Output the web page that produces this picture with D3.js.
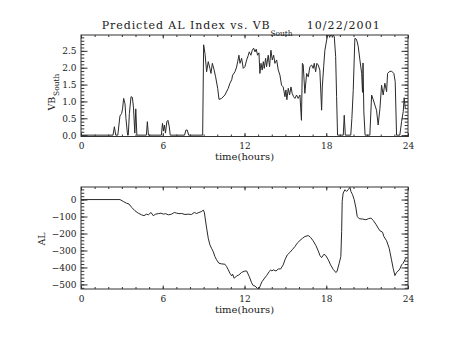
<!DOCTYPE html>
<html>
<head>
<meta charset="utf-8">
<script src="https://cdn.jsdelivr.net/npm/d3@7"></script>
<style>
  html, body { margin: 0; padding: 0; background: #fff; }
  svg { display: block; }
  text { font-family: "DejaVu Serif", serif; fill: #222; }
</style>
</head>
<body>
<svg id="chart" width="454" height="341"></svg>
<script>
// ---------------- DATA ----------------
const xTicks = [0, 6, 12, 18, 24];
const vbTicks = [0, 0.5, 1.0, 1.5, 2.0, 2.5];
const alTicks = [0, -100, -200, -300, -400, -500];

const vbHours = [0,2.35,2.45,2.55,2.7,2.86,2.98,3.05,3.13,3.23,3.3,3.42,3.47,3.55,3.67,3.77,3.85,3.95,4.02,4.1,
  4.8,4.87,4.95,
  5.9,5.98,6.05,6.12,6.2,6.3,6.38,6.48,6.55,
  7.6,7.7,7.8,7.9,
  8.93,9.0,9.1,9.22,9.34,9.46,9.54,9.64,9.76,9.88,10.03,10.13,10.32,10.56,10.81,10.93,11.06,11.13,11.3,11.42,11.5,11.59,11.67,11.79,11.91,12.03,12.16,12.28,12.35,12.47,12.57,12.67,12.77,12.86,12.96,13.06,13.13,13.21,13.3,13.38,13.45,13.55,13.62,13.74,13.84,13.94,14.04,14.14,14.23,14.36,14.48,14.6,14.72,14.84,14.97,15.04,15.11,15.21,15.31,15.41,15.5,15.6,15.7,15.82,15.94,16.07,16.12,16.18,16.25,16.31,16.43,16.56,16.68,16.8,16.93,17.04,17.12,17.22,17.31,17.41,17.53,17.66,17.71,17.81,17.9,18.03,18.1,18.2,18.25,18.32,18.4,18.45,18.52,18.59,18.69,18.76,18.83,
  19.25,19.32,19.4,
  19.8,19.88,19.98,20.1,20.2,20.27,20.35,20.47,20.6,20.66,20.7,20.76,20.85,21.2,21.33,21.45,21.57,21.69,21.81,21.94,22.06,22.18,22.3,22.43,22.5,22.62,22.79,22.96,23.06,23.16,23.4,23.53,23.65,23.72,23.8];
const vbValues = [0,0,0.25,0,0,0.57,0.64,0.78,1.09,0.93,0.49,0,0,0.64,1.14,1.12,0.83,0.06,0.78,0,
  0,0.4,0,
  0,0.35,0.12,0.3,0.06,0.4,0.44,0.25,0,
  0,0.15,0.15,0,
  0,2.68,2.42,1.88,2.18,1.98,1.83,2.13,1.95,1.73,1.39,1.06,1.09,1.19,1.39,1.54,1.64,1.78,1.88,2.02,2.18,2.37,2.13,2.28,1.98,2.03,2.23,2.37,2.47,2.37,2.52,2.58,2.47,2.55,2.37,2.44,1.83,2.13,1.93,2.18,1.98,2.28,2.03,2.37,2.03,2.52,2.23,2.37,2.13,2.23,1.93,1.78,1.48,1.43,1.14,1.34,1.05,1.39,1.19,1.43,1.24,1.14,1.09,1.19,1.09,1.19,0.83,0.44,2.13,2.08,1.24,1.83,1.73,2.03,2.08,1.98,2.13,1.88,2.13,2.08,1.93,0.74,1.43,2.03,2.52,2.82,2.97,2.97,2.9,2.97,2.97,2.9,2.97,2.92,2.33,1.14,0,
  0,0.59,0,
  0,0.49,1.32,2.87,2.85,2.77,2.62,2.23,1.83,1.27,2.14,0.69,0,0,1.19,1.05,0.89,0.74,0.3,0.79,1.48,1.19,1.54,1.29,1.83,1.88,1.9,1.83,1.59,0,0,0.4,0.7,1.11,0.79];

const alHours = [0,2.86,3.1,3.35,3.52,3.72,3.96,4.2,4.45,4.62,4.82,4.94,5.14,5.3,5.48,5.67,5.87,6.04,6.21,6.41,6.65,6.85,7.02,7.19,7.39,7.63,7.87,8.12,8.31,8.49,8.66,8.86,8.97,9.05,9.22,9.34,9.46,9.58,9.7,9.83,9.95,10.12,10.32,10.56,10.69,10.81,10.93,11.06,11.13,11.25,11.42,11.59,11.79,12.03,12.16,12.35,12.52,12.64,12.77,12.94,13.06,13.18,13.28,13.43,13.62,13.82,13.92,14.01,14.11,14.31,14.48,14.65,14.84,14.97,15.14,15.33,15.53,15.7,15.87,16.07,16.26,16.43,16.68,16.85,17.04,17.24,17.41,17.54,17.66,17.83,17.97,18.15,18.32,18.51,18.71,18.8,18.95,19.07,19.13,19.17,19.24,19.37,19.49,19.61,19.74,19.81,19.93,20.05,20.18,20.27,20.42,20.67,20.91,21.08,21.28,21.45,21.64,21.81,21.94,22.13,22.23,22.43,22.62,22.79,22.91,23.04,23.16,23.28,23.4,23.53,23.65,23.77,23.89];
const alValues = [0,0,-11,-22,-26,-46,-66,-80,-90,-95,-86,-90,-76,-95,-86,-83,-80,-86,-83,-90,-86,-76,-80,-83,-82,-88,-86,-88,-76,-82,-76,-70,-62,-74,-168,-228,-267,-287,-306,-336,-355,-375,-379,-381,-395,-414,-434,-450,-440,-464,-450,-444,-429,-421,-421,-454,-490,-507,-509,-523,-527,-503,-484,-468,-448,-424,-414,-421,-414,-421,-409,-409,-385,-355,-326,-312,-293,-277,-257,-241,-228,-218,-212,-223,-243,-271,-302,-330,-342,-322,-330,-355,-385,-411,-430,-421,-375,-336,-188,-11,38,58,48,58,72,48,29,0,-50,-99,-113,-115,-119,-113,-109,-123,-145,-168,-184,-192,-218,-243,-287,-355,-405,-448,-429,-421,-409,-385,-375,-355,-342];

// ---------------- LAYOUT ----------------
const svg = d3.select("#chart");
const ink = "#333";
const L = 81, R = 408;
const top1 = 35, bot1 = 136.5;
const top2 = 187, bot2 = 289;

const x = d3.scaleLinear().domain([0, 24]).range([L, R]);
const yVB = d3.scaleLinear().domain([-0.04, 2.97]).range([bot1, top1]);
const yAL = d3.scaleLinear().domain([-527, 74]).range([bot2, top2]);

const minorX = d3.range(0, 25, 1);
const minorVB = d3.range(0, 30, 1).map(d => d / 10).filter(d => d >= -0.04 && d <= 2.97);
const minorAL = d3.range(-520, 80, 20);

function panel(y, yTicks, yMinor, yFmt, topY, botY, clipId, hours, values) {
  const g = svg.append("g");
  svg.append("clipPath").attr("id", clipId).append("rect")
    .attr("x", L).attr("y", topY).attr("width", R - L).attr("height", botY - topY);

  // data line
  const pts = hours.map((h, i) => [h, values[i]]);
  g.append("path").datum(pts)
    .attr("clip-path", `url(#${clipId})`)
    .attr("fill", "none").attr("stroke", "#2a2a2a").attr("stroke-width", 1)
    .attr("stroke-linejoin", "round")
    .attr("d", d3.line().x(d => x(d[0])).y(d => y(d[1])));

  // frame
  g.append("rect").attr("x", L).attr("y", topY).attr("width", R - L).attr("height", botY - topY)
    .attr("fill", "none").attr("stroke", ink).attr("stroke-width", 1);

  const clean = s => s.select(".domain").remove();
  const styleTicks = s => s.selectAll("line").attr("stroke", ink);

  // bottom x axis major with labels
  g.append("g").attr("transform", `translate(0,${botY})`)
    .call(d3.axisBottom(x).tickValues(xTicks).tickSize(-3.5).tickPadding(6.4).tickFormat(d3.format("d")))
    .call(clean).call(styleTicks)
    .call(s => s.selectAll("text").attr("font-size", 9).attr("font-family", "DejaVu Serif").attr("fill", "#222"));
  // bottom minor
  g.append("g").attr("transform", `translate(0,${botY})`)
    .call(d3.axisBottom(x).tickValues(minorX).tickSize(-2).tickFormat(""))
    .call(clean).call(styleTicks);
  // top x axis
  g.append("g").attr("transform", `translate(0,${topY})`)
    .call(d3.axisTop(x).tickValues(xTicks).tickSize(-3.5).tickFormat(""))
    .call(clean).call(styleTicks);
  g.append("g").attr("transform", `translate(0,${topY})`)
    .call(d3.axisTop(x).tickValues(minorX).tickSize(-2).tickFormat(""))
    .call(clean).call(styleTicks);

  // left y axis
  g.append("g").attr("transform", `translate(${L},0)`)
    .call(d3.axisLeft(y).tickValues(yTicks).tickSize(-6.5).tickPadding(4.5).tickFormat(yFmt))
    .call(clean).call(styleTicks)
    .call(s => s.selectAll("text").attr("font-size", 9).attr("font-family", "DejaVu Serif").attr("fill", "#222"));
  g.append("g").attr("transform", `translate(${L},0)`)
    .call(d3.axisLeft(y).tickValues(yMinor).tickSize(-3.3).tickFormat(""))
    .call(clean).call(styleTicks);
  // right y axis
  g.append("g").attr("transform", `translate(${R},0)`)
    .call(d3.axisRight(y).tickValues(yTicks).tickSize(-6.5).tickFormat(""))
    .call(clean).call(styleTicks);
  g.append("g").attr("transform", `translate(${R},0)`)
    .call(d3.axisRight(y).tickValues(yMinor).tickSize(-3.3).tickFormat(""))
    .call(clean).call(styleTicks);

  // x axis title
  g.append("text").attr("x", (L + R) / 2).attr("y", botY + 23.5)
    .attr("text-anchor", "middle").attr("font-size", 10).text("time(hours)");
}

panel(yVB, vbTicks, minorVB, d3.format(".1f"), top1, bot1, "clipTop", vbHours, vbValues);
panel(yAL, alTicks, minorAL, d3.format("d"), top2, bot2, "clipBot", alHours, alValues);

// title
svg.append("text").attr("x", 101.7).attr("y", 29.3).attr("font-size", 11)
  .attr("textLength", 168).attr("lengthAdjust", "spacing").text("Predicted AL Index vs. VB");
svg.append("text").attr("x", 270.5).attr("y", 35.5).attr("font-size", 7.5)
  .attr("textLength", 22).attr("lengthAdjust", "spacing").text("South");
svg.append("text").attr("x", 306.7).attr("y", 29.3).attr("font-size", 11)
  .attr("textLength", 73).attr("lengthAdjust", "spacing").text("10/22/2001");

// y titles
const vbLab = svg.append("g").attr("transform", "translate(55,110.5) rotate(-90)");
vbLab.append("text").attr("x", 0).attr("y", 0).attr("font-size", 9.5).text("VB");
vbLab.append("text").attr("x", 14.5).attr("y", 4).attr("font-size", 7.5).text("South");

svg.append("g").attr("transform", "translate(44.5,239) rotate(-90)")
  .append("text").attr("text-anchor", "middle").attr("font-size", 9.5).text("AL");
</script>
</body>
</html>
